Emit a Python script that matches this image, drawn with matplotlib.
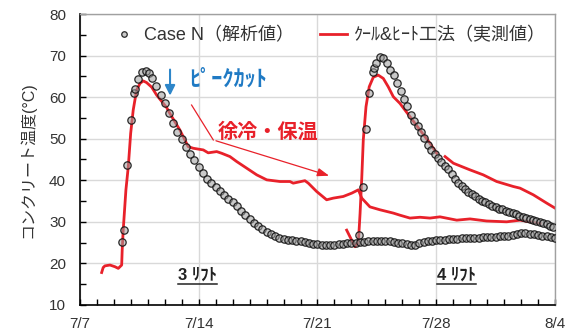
import numpy as np
import matplotlib
matplotlib.use("Agg")
import matplotlib.pyplot as plt
from matplotlib.lines import Line2D

plt.rcParams['font.family'] = ['Liberation Sans', 'Noto Sans CJK JP', 'DejaVu Sans']

# days counted from 7/7
xtick_pos = [0, 7, 14, 21, 28]
xtick_labels = ["7/7", "7/14", "7/21", "7/28", "8/4"]

# measured (red) - 3rd lift
meas3_day = [1.28, 1.37, 1.47, 1.77, 2.06, 2.26, 2.46, 2.49, 2.55, 2.71, 2.85, 2.99, 3.14,
             3.34, 3.54, 3.73, 3.93, 4.23, 4.52, 5.11, 5.31, 5.89, 6.38, 6.68, 7.27, 7.56,
             8.06, 8.35, 8.84, 9.24, 9.83, 10.42, 11.01, 11.79, 12.38, 12.57, 13.26, 13.46,
             13.95, 14.54, 14.93, 15.52, 16.02, 16.41, 16.61, 17.09, 17.68, 18.47, 18.86,
             19.45, 20.04, 20.63, 21.22, 22.21, 22.99, 23.97, 25.15, 25.94, 26.53, 27.12]
meas3_temp = [17.8, 19.0, 19.4, 19.6, 19.2, 18.8, 19.6, 23.2, 28.0, 37.7, 43.3, 51.3, 56.9,
              61.7, 63.3, 63.9, 63.5, 62.4, 60.5, 57.5, 56.0, 52.1, 48.1, 47.7, 47.3, 46.6,
              46.9, 46.5, 45.7, 44.5, 42.9, 41.3, 40.1, 39.7, 39.7, 39.3, 39.9, 39.3,
              37.3, 35.3, 35.7, 36.1, 36.9, 37.7, 35.7, 33.6, 32.9, 32.1, 31.6,
              30.9, 31.1, 30.9, 31.2, 30.4, 30.7, 30.2, 30.0, 30.4, 30.0, 29.6]

# measured (red) - 4th lift (gap near 7/28)
meas4_day = [15.72, 16.21, 16.41, 16.51, 16.61, 16.70, 16.86, 17.05, 17.29, 17.58, 17.88,
             18.17, 18.47, 18.86, 19.45, 20.04, 20.63, 21.03, np.nan, 21.52, 22.01, 22.99,
             23.77, 24.56, 25.54, 25.94, 26.72, 27.51, 28.0]
meas4_temp = [28.0, 24.0, 25.0, 32.0, 40.5, 49.7, 57.7, 62.5, 64.8, 65.3, 64.5,
              62.5, 60.1, 58.5, 55.3, 52.1, 48.9, 46.5, np.nan, 45.7, 44.1, 42.5,
              41.3, 39.7, 38.5, 38.1, 36.5, 34.5, 33.3]

# analysis (Case N) - 3rd lift
calc3_rise_day = [2.49, 2.59, 2.77, 3.01, 3.20, 3.24, 3.40, 3.64, 3.87, 4.07]
calc3_rise_temp = [25.1, 28.0, 43.7, 54.5, 61.1, 61.9, 64.4, 66.1, 66.3, 65.7]
calc3_tail_temp = [64.6, 62.8, 60.6, 58.6, 56.3, 53.7, 51.5, 49.9, 48.0, 46.2, 44.8, 43.2,
                   41.7, 40.4, 39.3, 38.3, 37.4, 36.5, 35.6, 34.7, 33.7, 32.6, 31.6, 30.7,
                   29.8, 29.0, 28.3, 27.6, 27.1, 26.6, 26.2, 25.9, 25.7, 25.6, 25.5, 25.3,
                   25.1, 24.9, 24.7, 24.6, 24.4, 24.4, 24.5, 24.4, 24.6, 24.7, 24.8, 24.9,
                   25.0, 25.1, 25.2, 25.3, 25.4, 25.3, 25.4, 25.4, 25.3, 25.2, 25.0, 24.8,
                   24.6, 24.5, 24.5, 24.8, 25.1, 25.3, 25.4, 25.6, 25.7, 25.7, 25.8, 25.8,
                   25.9, 26.0, 26.0, 26.1, 26.2, 26.2, 26.3, 26.3, 26.4, 26.4, 26.5, 26.6,
                   26.7, 26.9, 27.1, 27.2, 27.2, 27.1, 27.0, 26.8, 26.6, 26.5, 26.3, 26.1]
calc3_tail_day = 4.25 + 0.25 * np.arange(len(calc3_tail_temp))

# analysis (Case N) - 4th lift
calc4_rise_day = [16.45, 16.66, 16.86, 17.05, 17.25, 17.33, 17.45, 17.68, 17.88, 18.11]
calc4_rise_temp = [26.8, 38.3, 52.3, 60.9, 66.1, 66.9, 68.3, 69.6, 69.3, 68.1]
calc4_tail_temp = [66.6, 65.3, 63.5, 61.5, 59.6, 57.8, 55.8, 54.3, 53.1, 51.6, 50.1, 48.6,
                   47.4, 46.3, 45.3, 44.3, 43.5, 42.7, 41.5, 40.3, 39.3, 38.5, 37.8, 37.2,
                   36.6, 36.1, 35.6, 35.1, 34.7, 34.3, 33.9, 33.5, 33.2, 33.0, 32.7, 32.4,
                   32.1, 31.8, 31.5, 31.2, 31.0, 30.7, 30.5, 30.2, 30.0, 29.7, 29.4, 29.0, 28.7]
calc4_tail_day = 18.3 + 0.2 * np.arange(len(calc4_tail_temp))

calc_day = np.concatenate([calc3_rise_day, calc3_tail_day, calc4_rise_day, calc4_tail_day])
calc_temp = np.concatenate([calc3_rise_temp, calc3_tail_temp, calc4_rise_temp, calc4_tail_temp])

red = "#e8212a"
blue = "#1f7ac4"
dark = "#333333"

fig = plt.figure(figsize=(5.71, 3.34), dpi=100)
ax = fig.add_axes([0.140, 0.087, 0.832, 0.871])

ax.plot(meas3_day, meas3_temp, color=red, lw=2.0, zorder=2,
        label="ｸｰﾙ&ﾋｰﾄ工法（実測値）")
ax.plot(meas4_day, meas4_temp, color=red, lw=2.0, zorder=2)
ax.plot(calc_day, calc_temp, ls="none", marker="o", ms=5.3, mfc=(0.62, 0.62, 0.62, 0.55),
        mec=(0.08, 0.08, 0.08, 0.9), mew=0.9, zorder=3, label="Case N（解析値）")

ax.set_xlim(0, 28)
ax.set_ylim(10, 80)
ax.set_xticks(xtick_pos)
ax.set_xticklabels(xtick_labels)
ax.set_xticks(np.arange(0, 29, 1), minor=True)
ax.set_yticks(np.arange(10, 81, 10))
ax.set_yticks(np.arange(10, 81, 5), minor=True)
ax.tick_params(which="both", direction="in", length=4, width=1, colors="black",
               labelsize=11, labelcolor=dark)
ax.tick_params(axis="y", pad=10)
ax.tick_params(axis="x", pad=9)
ax.grid(True, which="major", color="#d9d9d9", lw=1)
ax.set_axisbelow(True)
for s in ["top", "right"]:
    ax.spines[s].set_color("#a0a0a0")
    ax.spines[s].set_linewidth(1)
for s in ["left", "bottom"]:
    ax.spines[s].set_linewidth(1.2)

ax.set_ylabel("コンクリート温度(°C)", fontsize=11.5, color=dark)
ax.yaxis.set_label_coords(-0.093, 0.5)

handles, labels = ax.get_legend_handles_labels()
ax.legend(handles[::-1], labels[::-1], loc="upper center", ncol=2, frameon=False,
          fontsize=13, numpoints=1, markerscale=0.75, handlelength=1.5,
          handletextpad=0.4, columnspacing=1.4, bbox_to_anchor=(0.522, 1.01),
          labelcolor=dark)

# annotations
ax.annotate("", xy=(5.31, 59.7), xytext=(5.31, 67.3),
            arrowprops=dict(arrowstyle="-|>,head_width=0.3,head_length=0.6",
                            color="#2e86c9", lw=1.5))
ax.text(6.45, 64.1, "ﾋﾟｰｸｶｯﾄ", color=blue, fontsize=16, fontweight="bold",
        va="center", ha="left")
ax.text(8.14, 51.7, "徐冷・保温", color=red, fontsize=14.5, fontweight="bold",
        va="center", ha="left")
ax.plot([6.58, 7.86], [58.1, 49.7], color=red, lw=0.9)
ax.annotate("", xy=(14.84, 40.9), xytext=(7.86, 49.7),
            arrowprops=dict(arrowstyle="-|>,head_width=0.25,head_length=0.7",
                            color=red, lw=0.9))

lift_texts = []
for xpos, lab in [(5.78, "3 ﾘﾌﾄ"), (21.05, "4 ﾘﾌﾄ")]:
    t = ax.text(xpos, 17.1, lab, color="#222222", fontsize=12, fontweight="bold",
                va="center", ha="left")
    lift_texts.append(t)

fig.canvas.draw()
r = fig.canvas.get_renderer()
inv = ax.transAxes.inverted()
for t in lift_texts:
    bb = t.get_window_extent(r)
    (x0, y0), (x1, y1) = inv.transform([[bb.x0, bb.y0], [bb.x1, bb.y1]])
    ax.add_line(Line2D([x0, x1], [y0 - 0.004, y0 - 0.004], transform=ax.transAxes,
                       color="#222222", lw=1.1))

fig.savefig("out.png", dpi=100)
